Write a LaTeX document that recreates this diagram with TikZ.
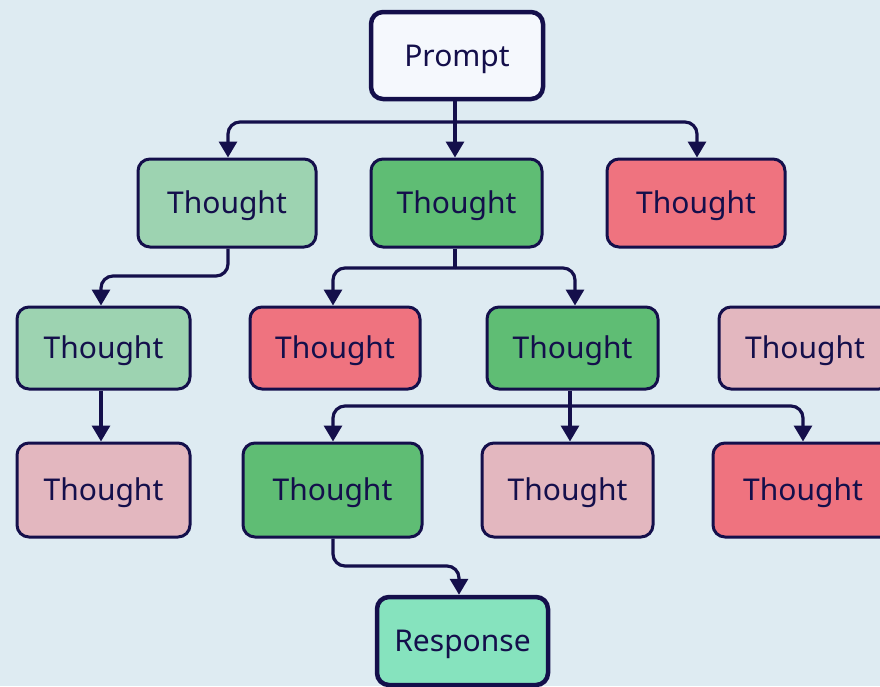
\documentclass[tikz,border=0pt]{standalone}
\usepackage{fontspec}
\setmainfont{Noto Sans}
\usetikzlibrary{arrows.meta}

\definecolor{bgblue}{RGB}{222,235,242}
\definecolor{ink}{RGB}{20,15,75}
\definecolor{promptfill}{RGB}{245,248,253}
\definecolor{palegreen}{RGB}{157,211,177}
\definecolor{deepgreen}{RGB}{95,189,116}
\definecolor{rosered}{RGB}{239,115,127}
\definecolor{dustypink}{RGB}{227,183,191}
\definecolor{mint}{RGB}{134,227,190}

\tikzset{
  box/.style={draw=ink, line width=3pt, rounded corners=12pt, text=ink,
    font=\fontsize{30}{36}\selectfont, text height=21.5pt, text depth=0pt,
    inner sep=0pt, minimum width=#1},
  box/.default=172pt,
  endbox/.style={box, line width=4.5pt},
  link/.style={draw=ink, line width=3.2pt, rounded corners=12pt,
    -{Triangle[width=18pt,length=16pt]}},
  trunk/.style={draw=ink, line width=3.2pt},
}

\begin{document}
\begin{tikzpicture}[x=1pt, y=-1pt]
  \fill[bgblue] (0,0) rectangle (880,686);
  \clip (0,0) rectangle (880,686);

  % root
  \node[endbox, fill=promptfill, minimum height=87pt] (prompt) at (457,55.5) {Prompt};

  % first level
  \node[box=178pt, fill=palegreen, minimum height=88pt] (t1a) at (227,203) {Thought};
  \node[box=171pt, fill=deepgreen, minimum height=88pt] (t1b) at (456.5,203) {Thought};
  \node[box=178pt, fill=rosered, minimum height=88pt] (t1c) at (696,203) {Thought};

  % second level
  \node[box=173pt, fill=palegreen, minimum height=82pt] (t2a) at (103.5,348) {Thought};
  \node[box=170pt, fill=rosered, minimum height=82pt] (t2b) at (335,348) {Thought};
  \node[box=171pt, fill=deepgreen, minimum height=82pt] (t2c) at (572.5,348) {Thought};
  \node[box=172pt, fill=dustypink, minimum height=82pt] (t2d) at (805,348) {Thought};

  % third level
  \node[box=173pt, fill=dustypink, minimum height=94pt] (t3a) at (103.5,490) {Thought};
  \node[box=179pt, fill=deepgreen, minimum height=94pt] (t3b) at (332.5,490) {Thought};
  \node[box=171pt, fill=dustypink, minimum height=94pt] (t3c) at (567.5,490) {Thought};
  \node[box=180pt, fill=rosered, minimum height=94pt] (t3d) at (803,490) {Thought};

  % answer
  \node[endbox, fill=mint, minimum width=171pt, minimum height=88pt] (resp) at (462.5,641) {Response};

  % junction points of the branching connectors
  \coordinate (j0) at (455,122);
  \coordinate (j1) at (455,268);
  \coordinate (j2) at (570,406);

  % prompt -> first level
  \draw[link] (prompt.south -| j0) -- (t1b.north -| j0);
  \draw[link] (j0) -| (t1a.north -| 228,0);
  \draw[link] (j0) -| (t1c.north -| 697,0);

  % first level -> second level
  \draw[link] (t1a.south -| 228,0) -- (228,276) -| (t2a.north -| 101,0);
  \draw[trunk] (t1b.south -| j1) -- (j1);
  \draw[link] (j1) -| (t2b.north -| 333,0);
  \draw[link] (j1) -| (t2c.north -| 575,0);

  % second level -> third level
  \draw[link] (t2a.south -| 101,0) -- (t3a.north -| 101,0);
  \draw[link] (t2c.south -| j2) -- (t3c.north -| j2);
  \draw[link] (j2) -| (t3b.north -| 333,0);
  \draw[link] (j2) -| (t3d.north -| 803,0);

  % winning thought -> response
  \draw[link] (t3b.south -| 333,0) -- (333,566) -| (resp.north -| 459,0);
\end{tikzpicture}
\end{document}
